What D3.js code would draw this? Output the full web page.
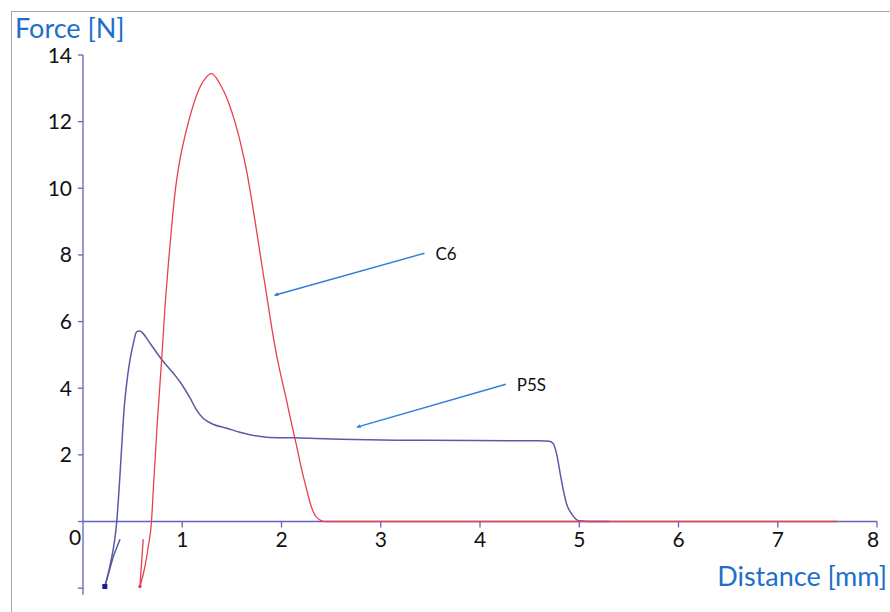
<!DOCTYPE html>
<html>
<head>
<meta charset="utf-8">
<script src="https://cdn.jsdelivr.net/npm/d3@7"></script>
<style>
  html, body { margin: 0; padding: 0; background: #fff; }
  svg { display: block; }
  text { font-family: Lato, "Open Sans", sans-serif; }
</style>
</head>
<body>
<svg id="chart" width="890" height="612"></svg>
<script>
// ---- Data ----
// Each series: a short approach stroke going down to its lowest point, then the measured curve.
const c6X = [0.607, 0.59, 0.574, 0.624, 0.658, 0.69, 0.708, 0.748, 0.792, 0.83, 0.862, 0.893, 0.926, 0.970, 1.03, 1.095, 1.178, 1.24, 1.296, 1.38, 1.46, 1.53, 1.60, 1.65, 1.70, 1.75, 1.80, 1.85, 1.90, 1.95, 2.00, 2.05, 2.10, 2.15, 2.20, 2.25, 2.30, 2.35, 2.44, 2.6, 7.6];
const c6Y = [-0.53, -1.25, -1.95, -1.35, -0.75, 0, 0.94, 2.94, 4.84, 6.6, 7.8, 8.84, 9.84, 10.75, 11.6, 12.34, 13.03, 13.33, 13.44, 13.13, 12.63, 12.0, 11.2, 10.5, 9.64, 8.7, 7.74, 6.8, 5.85, 5.0, 4.3, 3.65, 2.95, 2.3, 1.6, 1.0, 0.45, 0.14, 0, 0, 0];

const p5sX = [0.373, 0.305, 0.22, 0.27, 0.34, 0.39, 0.413, 0.44, 0.473, 0.507, 0.54, 0.574, 0.60, 0.675, 0.79, 0.94, 0.98, 1.08, 1.145, 1.21, 1.31, 1.45, 1.58, 1.85, 2.12, 2.59, 3.16, 3.93, 4.60, 4.70, 4.74, 4.77, 4.82, 4.87, 4.93, 5.0, 5.1, 5.3];
const p5sY = [-0.53, -1.05, -1.95, -1.35, 0, 2.24, 3.34, 4.14, 4.84, 5.34, 5.69, 5.72, 5.66, 5.35, 4.87, 4.34, 4.18, 3.70, 3.34, 3.10, 2.92, 2.80, 2.68, 2.53, 2.51, 2.47, 2.44, 2.43, 2.42, 2.41, 2.33, 2.05, 1.24, 0.55, 0.2, 0.02, 0, 0];

const xTicks = [1, 2, 3, 4, 5, 6, 7, 8];
const yTicks = [-2, 0, 2, 4, 6, 8, 10, 12, 14];
const yTickLabels = ["", "", "2", "4", "6", "8", "10", "12", "14"];
const originLabel = "0";

const annLabels = ["C6", "P5S"];
const annFromX = [3.44, 4.26];
const annFromY = [8.05, 4.12];
const annToX = [1.93, 2.76];
const annToY = [6.79, 2.83];

const yTitle = "Force [N]";
const xTitle = "Distance [mm]";

// ---- Styles ----
const axisColor = "#6262bd";
const p5sColor = "#5a5aa6";
const c6Color = "#e8404c";
const arrowColor = "#2d7fd9";
const titleColor = "#1d6fca";

const svg = d3.select("#chart");

// frame
svg.append("rect").attr("x", 11.5).attr("y", 11.5).attr("width", 900).attr("height", 620)
  .attr("fill", "none").attr("stroke", "#a6a6a6").attr("stroke-width", 1);

const x = d3.scaleLinear().domain([0, 8]).range([83, 877]);
const y = d3.scaleLinear().domain([-2.2, 14]).range([594.8, 55]);

// y axis
svg.append("line").attr("x1", x(0)).attr("x2", x(0)).attr("y1", y(14)).attr("y2", y(-2.2))
  .attr("stroke", axisColor).attr("stroke-width", 1.3);
svg.selectAll(".ytick").data(yTicks).enter().append("line")
  .attr("x1", x(0) - 5).attr("x2", x(0)).attr("y1", d => y(d)).attr("y2", d => y(d))
  .attr("stroke", axisColor).attr("stroke-width", 1.3);
svg.selectAll(".ylab").data(yTicks).enter().append("text")
  .attr("x", 72).attr("y", d => y(d)).attr("dy", "0.36em")
  .attr("text-anchor", "end").attr("font-size", 21).attr("fill", "#111")
  .text((d, i) => yTickLabels[i]);

// x axis
svg.append("line").attr("x1", x(0)).attr("x2", x(8)).attr("y1", y(0)).attr("y2", y(0))
  .attr("stroke", axisColor).attr("stroke-width", 1.3);
svg.selectAll(".xtick").data(xTicks).enter().append("line")
  .attr("x1", d => x(d)).attr("x2", d => x(d)).attr("y1", y(0)).attr("y2", y(0) + 6)
  .attr("stroke", axisColor).attr("stroke-width", 1.3);
svg.selectAll(".xlab").data(xTicks).enter().append("text")
  .attr("x", d => x(d) - (d === 8 ? 4 : 0)).attr("y", y(0) + 26)
  .attr("text-anchor", "middle").attr("font-size", 21).attr("fill", "#111")
  .text(d => d);
svg.append("text").attr("x", 75).attr("y", y(0) + 24).attr("text-anchor", "middle")
  .attr("font-size", 21).attr("fill", "#111").text(originLabel);

// titles
svg.append("text").attr("x", 15).attr("y", 38).attr("font-size", 27).attr("fill", titleColor).text(yTitle);
svg.append("text").attr("x", 887).attr("y", 586).attr("text-anchor", "end")
  .attr("font-size", 27).attr("fill", titleColor).text(xTitle);

// curves: approach stroke (linear) + measured curve (monotone in x)
function split(xs, ys) {
  const pts = xs.map((v, i) => [v, ys[i]]);
  let k = 0;
  pts.forEach((p, i) => { if (p[1] < pts[k][1]) k = i; });
  return { approach: pts.slice(0, k + 1), main: pts.slice(k), min: pts[k] };
}
const lineLin = d3.line().x(d => x(d[0])).y(d => y(d[1]));
const lineMain = d3.line().x(d => x(d[0])).y(d => y(d[1])).curve(d3.curveMonotoneX);

const p5s = split(p5sX, p5sY);
const c6 = split(c6X, c6Y);

[[p5s, p5sColor, 1.5], [c6, c6Color, 1.3]].forEach(([s, col, w]) => {
  svg.append("path").datum(s.approach).attr("d", lineLin).attr("fill", "none")
    .attr("stroke", col).attr("stroke-width", w);
  svg.append("path").datum(s.main).attr("d", lineMain).attr("fill", "none")
    .attr("stroke", col).attr("stroke-width", w);
});

// start markers (lowest point of each curve)
svg.append("rect").attr("x", x(p5s.min[0]) - 2.5).attr("y", y(p5s.min[1]) - 2.5)
  .attr("width", 5).attr("height", 5).attr("fill", "#1e1e86");
svg.append("circle").attr("cx", x(c6.min[0])).attr("cy", y(c6.min[1])).attr("r", 1.8).attr("fill", c6Color);

// arrows
svg.append("defs").append("marker").attr("id", "ah")
  .attr("viewBox", "0 0 10 10").attr("refX", 9).attr("refY", 5)
  .attr("markerWidth", 5).attr("markerHeight", 4).attr("orient", "auto")
  .attr("markerUnits", "userSpaceOnUse")
  .append("path").attr("d", "M0,0 L10,5 L0,10 z").attr("fill", arrowColor);

annLabels.forEach((lab, i) => {
  svg.append("line")
    .attr("x1", x(annFromX[i])).attr("y1", y(annFromY[i]))
    .attr("x2", x(annToX[i])).attr("y2", y(annToY[i]))
    .attr("stroke", arrowColor).attr("stroke-width", 1.4).attr("marker-end", "url(#ah)");
  svg.append("text").attr("x", x(annFromX[i]) + 11).attr("y", y(annFromY[i]) + 7)
    .attr("font-size", 17).attr("fill", "#111").text(lab);
});
</script>
</body>
</html>
